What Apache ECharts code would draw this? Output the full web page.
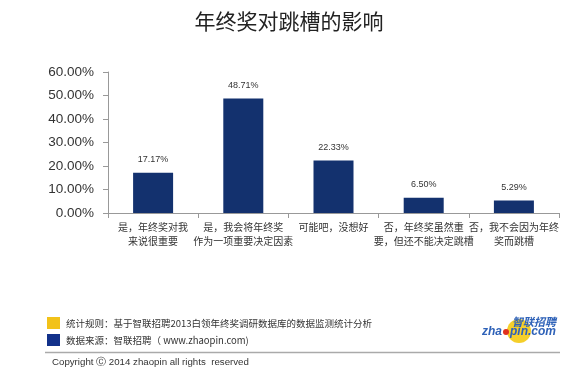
<!DOCTYPE html>
<html><head><meta charset="utf-8">
<script src="https://cdn.jsdelivr.net/npm/echarts@6/dist/echarts.min.js"></script>
<style>html,body{margin:0;padding:0;background:#fff}#c{width:568px;height:380px}</style>
</head><body><div id="c"></div>
<script>
const title = '年终奖对跳槽的影响';
const categories = ['是，年终奖对我\n来说很重要', '是，我会将年终奖\n作为一项重要决定因素', '可能吧，没想好', '否，年终奖虽然重\n要，但还不能决定跳槽', '否，我不会因为年终\n奖而跳槽'];
const values = [17.17, 48.71, 22.33, 6.50, 5.29];
const yTicks = [0, 10, 20, 30, 40, 50, 60];
const footnote1 = '统计规则：基于智联招聘2013白领年终奖调研数据库的数据监测统计分析';
const footnote2 = '数据来源：智联招聘（ www.zhaopin.com)';
const copyright = 'Copyright Ⓒ 2014 zhaopin all rights  reserved';

const chart = echarts.init(document.getElementById('c'));
const cjk = '"Noto Sans CJK SC", sans-serif';
chart.setOption({
  animation: false,
  grid: {left: 108, right: 9, top: 72, bottom: 167},
  xAxis: {
    type: 'category', data: categories,
    axisLine: {lineStyle: {color: '#999'}},
    axisTick: {show: true, length: 5, lineStyle: {color: '#999'}},
    axisLabel: {fontSize: 10, color: '#333', fontFamily: cjk, lineHeight: 14, margin: 7, interval: 0}
  },
  yAxis: {
    type: 'value', min: yTicks[0], max: yTicks[yTicks.length - 1], interval: 10,
    axisLine: {show: true, lineStyle: {color: '#999'}},
    axisTick: {show: true, length: 5, lineStyle: {color: '#999'}},
    splitLine: {show: false},
    axisLabel: {fontSize: 13.5, color: '#333', fontFamily: 'Liberation Sans, Arial', margin: 14,
      formatter: v => v.toFixed(2) + '%'}
  },
  series: [{
    type: 'bar', data: values, barWidth: 40,
    itemStyle: {color: '#13316e'},
    label: {show: true, position: 'top', distance: 9, fontSize: 9, color: '#333',
      fontFamily: 'Liberation Sans, Arial', formatter: p => p.value.toFixed(2) + '%'}
  }],
  graphic: [
    {type: 'text', x: 289, y: 21, style: {text: title, textAlign: 'center', verticalAlign: 'middle', fontSize: 21, fill: '#222', fontFamily: cjk}},
    {type: 'rect', shape: {x: 47, y: 317, width: 13, height: 12}, style: {fill: '#f2c219'}},
    {type: 'rect', shape: {x: 47, y: 334, width: 13, height: 12}, style: {fill: '#12318a'}},
    {type: 'text', x: 66, y: 323, style: {text: footnote1, fontSize: 9.5, fill: '#333', fontFamily: cjk, verticalAlign: 'middle'}},
    {type: 'text', x: 66, y: 340, style: {text: footnote2, fontSize: 9.5, fill: '#333', fontFamily: cjk, verticalAlign: 'middle'}},
    {type: 'line', shape: {x1: 45, y1: 352.5, x2: 560, y2: 352.5}, style: {stroke: '#aaa', lineWidth: 1.5}},
    {type: 'text', x: 52, y: 362, style: {text: copyright, fontSize: 9.7, fill: '#333', fontFamily: 'Liberation Sans, Arial', verticalAlign: 'middle'}},
    {type: 'circle', shape: {cx: 519, cy: 331, r: 12}, style: {fill: '#f5cf2a'}},
    {type: 'circle', shape: {cx: 506, cy: 332, r: 3}, style: {fill: '#e0301e'}},
    {type: 'text', x: 556, y: 322, style: {text: '智联招聘', textAlign: 'right', fontSize: 11, fontStyle: 'italic', fontWeight: 'bold', fill: '#2f62b8', fontFamily: cjk, verticalAlign: 'middle'}},
    {type: 'text', x: 482, y: 332, style: {text: 'zha', textAlign: 'left', fontSize: 12, fontStyle: 'italic', fontWeight: 'bold', fill: '#2f62b8', fontFamily: 'Liberation Sans, Arial', verticalAlign: 'middle'}},
    {type: 'text', x: 556, y: 332, style: {text: 'pin.com', textAlign: 'right', fontSize: 12, fontStyle: 'italic', fontWeight: 'bold', fill: '#2f62b8', fontFamily: 'Liberation Sans, Arial', verticalAlign: 'middle'}}
  ]
});
</script></body></html>
